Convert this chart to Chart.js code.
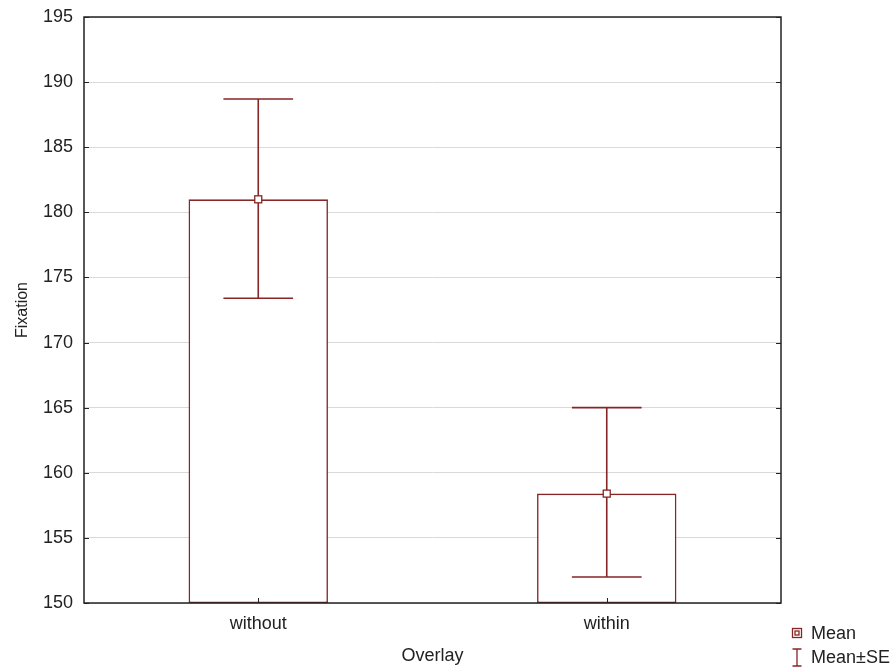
<!DOCTYPE html>
<html>
<head>
<meta charset="utf-8">
<script src="https://cdn.jsdelivr.net/npm/chart.js@4.4.1/dist/chart.umd.min.js"></script>
<style>
html,body{margin:0;padding:0;background:#fff;}
#wrap{width:896px;height:671px;position:relative;}
</style>
</head>
<body>
<div id="wrap"><canvas id="c" width="896" height="671"></canvas></div>
<script>
const categories = ["without", "within"];
const means = [181.0, 158.4];
const seUpper = [188.7, 165.0];
const seLower = [173.4, 152.0];
const yTicks = [150, 155, 160, 165, 170, 175, 180, 185, 190, 195];
const legendLabels = ["Mean", "Mean\u00B1SE"];
const xTitle = "Overlay";
const yTitle = "Fixation";

const MAROON = "#862626";
const FONT = "'Liberation Sans', Arial, sans-serif";

const overlay = {
  id: "overlay",
  afterDatasetsDraw(chart) {
    const ctx = chart.ctx;
    const xs = chart.scales.x, ys = chart.scales.y;
    const area = chart.chartArea;
    ctx.save();
    ctx.strokeStyle = MAROON;
    ctx.lineWidth = 1.6;
    categories.forEach((c, i) => {
      const x = xs.getPixelForValue(i);
      const yu = ys.getPixelForValue(seUpper[i]);
      const yl = ys.getPixelForValue(seLower[i]);
      const ym = ys.getPixelForValue(means[i]);
      const half = xs.width / categories.length * 0.1;
      ctx.beginPath();
      ctx.moveTo(x, yu); ctx.lineTo(x, yl);
      ctx.moveTo(x - half, yu); ctx.lineTo(x + half, yu);
      ctx.moveTo(x - half, yl); ctx.lineTo(x + half, yl);
      ctx.stroke();
      ctx.fillStyle = "#fff";
      ctx.fillRect(x - 3.5, ym - 3.5, 7, 7);
      ctx.lineWidth = 1.3;
      ctx.strokeRect(x - 3.5, ym - 3.5, 7, 7);
      ctx.lineWidth = 1.6;
    });
    ctx.strokeStyle = "#222";
    ctx.lineWidth = 1.5;
    ctx.strokeRect(area.left, area.top, area.right - area.left, area.bottom - area.top);
    ctx.lineWidth = 1;
    ctx.beginPath();
    yTicks.forEach(v => {
      const y = Math.round(ys.getPixelForValue(v)) + 0.5;
      ctx.moveTo(area.left, y); ctx.lineTo(area.left + 5, y);
      ctx.moveTo(area.right, y); ctx.lineTo(area.right - 5, y);
    });
    categories.forEach((c, i) => {
      const x = Math.round(xs.getPixelForValue(i)) + 0.5;
      ctx.moveTo(x, area.bottom); ctx.lineTo(x, area.bottom - 5);
    });
    ctx.stroke();
    const lx = 797, ly1 = 633, ly2 = 656;
    ctx.strokeStyle = MAROON;
    ctx.lineWidth = 1.3;
    ctx.strokeRect(lx - 4.5, ly1 - 4.5, 9, 9);
    ctx.strokeRect(lx - 2, ly1 - 2, 4, 4);
    ctx.beginPath();
    ctx.moveTo(lx - 4.5, ly2 - 7); ctx.lineTo(lx + 4.5, ly2 - 7);
    ctx.moveTo(lx, ly2 - 7); ctx.lineTo(lx, ly2 + 10);
    ctx.moveTo(lx - 4.5, ly2 + 10); ctx.lineTo(lx + 4.5, ly2 + 10);
    ctx.stroke();
    ctx.fillStyle = "#222";
    ctx.font = "18px " + FONT;
    ctx.textBaseline = "middle";
    ctx.textAlign = "left";
    ctx.fillText(legendLabels[0], lx + 14, ly1 + 1);
    ctx.fillText(legendLabels[1], lx + 14, ly2 + 2);
    ctx.restore();
  }
};

new Chart(document.getElementById("c"), {
  type: "bar",
  data: {
    labels: categories,
    datasets: [{
      data: means.map(m => [150, m]),
      backgroundColor: "#ffffff",
      borderColor: MAROON,
      borderWidth: 1.6,
      borderSkipped: false,
      barPercentage: 0.4,
      categoryPercentage: 1.0
    }]
  },
  options: {
    responsive: false,
    animation: false,
    devicePixelRatio: 1,
    layout: { padding: { top: 17, right: 115, left: 0, bottom: 0 } },
    plugins: { legend: { display: false }, tooltip: { enabled: false } },
    scales: {
      x: {
        grid: { display: false, drawTicks: false },
        border: { display: false },
        ticks: { color: "#222", font: { family: FONT, size: 18 }, padding: 10 },
        title: { display: true, text: xTitle, color: "#222", font: { family: FONT, size: 18 }, padding: { top: 4, bottom: 4 } },
        afterFit(s) { s.height = 68; s.paddingLeft = 0; s.paddingRight = 0; }
      },
      y: {
        min: 150, max: 195,
        afterBuildTicks(s) { s.ticks = yTicks.map(v => ({ value: v })); },
        grid: { color: "#d9d9d9", lineWidth: 1, drawTicks: false },
        border: { display: false },
        ticks: { color: "#222", font: { family: FONT, size: 18 }, padding: 11 },
        title: { display: true, text: yTitle, color: "#222", font: { family: FONT, size: 16 }, padding: { top: 13, bottom: 4 } },
        afterFit(s) { s.width = 84; s.paddingTop = 0; s.paddingBottom = 0; }
      }
    }
  },
  plugins: [overlay]
});
</script>
</body>
</html>
